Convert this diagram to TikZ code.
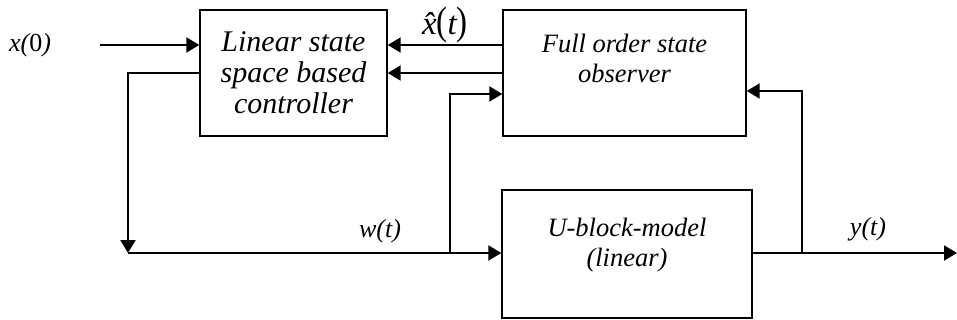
\documentclass[tikz,border=0pt]{standalone}
\usepackage{fontspec}
\setmainfont{Liberation Serif}
\usetikzlibrary{positioning,arrows.meta}
\tikzset{
  >={Triangle[length=13pt,width=15pt]},
  block/.style={
    rectangle,
    draw=black, line width=1.4pt,
    align=center,
    font=\itshape\fontsize{26.5}{30}\selectfont},
  sig/.style={draw, line width=2pt, ->},
  wire/.style={draw, line width=2pt},
  siglabel/.style={font=\itshape\fontsize{26}{28}\selectfont},
}
\begin{document}
\begin{tikzpicture}[x=1pt,y=-1pt]
  \useasboundingbox (0,0) rectangle (957,320);
  % blocks
  \node[block, minimum width=187pt, minimum height=126pt,
        font=\itshape\fontsize{30}{31}\selectfont] (ctrl) at (293.5,73)
        {Linear state\\space based\\controller};
  \node[block, minimum width=243pt, minimum height=126pt,
        text depth=30pt] (obs) at (624.5,73)
        {Full order state\\observer};
  \node[block, minimum width=250pt, minimum height=128pt,
        text depth=24pt] (plant) at (627,254)
        {U-block-model\\(linear)};

  % labels
  \node[siglabel] (x0) at (30,45) {x({\upshape 0})};
  \node[font=\itshape\fontsize{33}{34}\selectfont, inner sep=1pt] (xhat) at (445,25)
        {\^x\scalebox{1}[1.2]{\upshape(}t\scalebox{1}[1.2]{\upshape)}};
  \node[siglabel] (wt) at (380,231) {w(t)};
  \node[siglabel] (yt) at (868,229) {y(t)};

  % free ends and branch points
  \coordinate (in)    at (100,45);
  \coordinate (split) at (128,253);
  \coordinate (wb)    at (450,253);
  \coordinate (yb)    at (802,253);
  \coordinate (out)   at (957,253);

  \draw[sig] (in) -- (in -| ctrl.west);
  \draw[sig] ([yshift=28pt]obs.west) -- ([yshift=28pt]ctrl.east);
  \draw[sig] (obs.west) -- (ctrl.east);
  \draw[sig] (ctrl.west) -| (split);
  \draw[sig] (split) -- (split -| plant.west);
  \draw[sig] (wb) |- ([yshift=-21pt]obs.west);
  \draw[sig] (plant.east |- yb) -- (out);
  \draw[sig] (yb) |- ([yshift=-18pt]obs.east);
\end{tikzpicture}
\end{document}
